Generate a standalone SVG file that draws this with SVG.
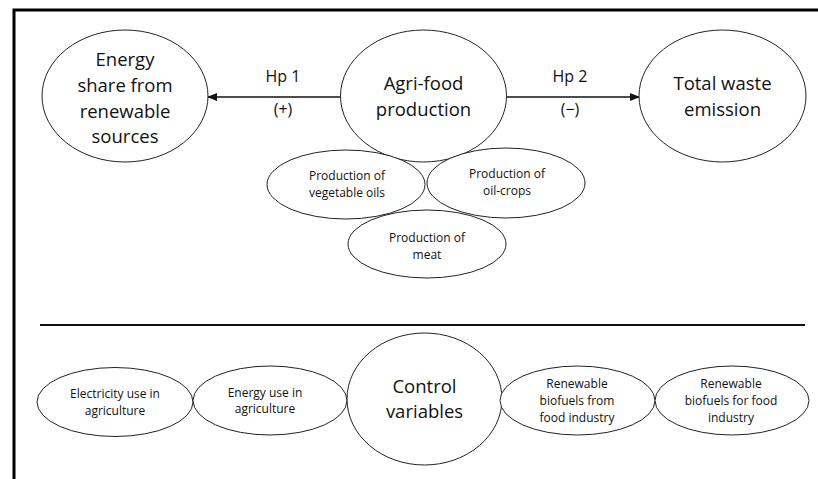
<svg xmlns="http://www.w3.org/2000/svg" width="818" height="479" viewBox="0 0 818 479">
<style>
.n ellipse{fill:#fff;stroke:#222;stroke-width:1}
text{font-family:"Open Sans",Lato,"DejaVu Sans",sans-serif;fill:#111;text-anchor:middle}
.b{font-size:18.5px}
.s{font-size:12px}
.l{font-size:16px}
</style>
<defs>
<marker id="ah" markerWidth="10" markerHeight="8" refX="9" refY="4" orient="auto" markerUnits="userSpaceOnUse">
<path d="M0,0 L10,4 L0,8 z" fill="#111"/>
</marker>
</defs>
<rect x="14" y="10" width="820" height="490" fill="#fff" stroke="#000" stroke-width="3"/>
<line x1="40" y1="325" x2="805" y2="325" stroke="#111" stroke-width="2"/>
<g id="connectors">
<line x1="340" y1="97" x2="208" y2="97" stroke="#111" stroke-width="1.5" marker-end="url(#ah)"/>
<line x1="507" y1="97" x2="639" y2="97" stroke="#111" stroke-width="1.5" marker-end="url(#ah)"/>
<text class="l" x="283" y="82">Hp 1</text>
<text class="l" x="283" y="115">(+)</text>
<text class="l" x="570" y="82">Hp 2</text>
<text class="l" x="570" y="115">(−)</text>
</g>
<g id="energy-share" class="n">
<ellipse cx="125" cy="96" rx="83" ry="66"/>
<text class="b" x="125" y="66">Energy</text>
<text class="b" x="125" y="92">share from</text>
<text class="b" x="125" y="118">renewable</text>
<text class="b" x="125" y="143">sources</text>
</g>
<g id="agri-food" class="n">
<ellipse cx="423.5" cy="96" rx="83" ry="66"/>
<text class="b" x="423.5" y="90">Agri-food</text>
<text class="b" x="423.5" y="116">production</text>
</g>
<g id="total-waste" class="n">
<ellipse cx="722.5" cy="96" rx="83.5" ry="66"/>
<text class="b" x="722.5" y="90">Total waste</text>
<text class="b" x="722.5" y="116">emission</text>
</g>
<g id="veg-oils" class="n">
<ellipse cx="346" cy="184.5" rx="79" ry="34.5"/>
<text class="s" x="347" y="180">Production of</text>
<text class="s" x="347" y="197">vegetable oils</text>
</g>
<g id="oil-crops" class="n">
<ellipse cx="506" cy="183" rx="79" ry="35"/>
<text class="s" x="507" y="178">Production of</text>
<text class="s" x="507" y="195">oil-crops</text>
</g>
<g id="meat" class="n">
<ellipse cx="427" cy="244" rx="79" ry="34"/>
<text class="s" x="427" y="242">Production of</text>
<text class="s" x="427" y="259">meat</text>
</g>
<g id="electricity" class="n">
<ellipse cx="115" cy="402" rx="78" ry="34.5"/>
<text class="s" x="115" y="398">Electricity use in</text>
<text class="s" x="115" y="415">agriculture</text>
</g>
<g id="energy-use" class="n">
<ellipse cx="270" cy="400.5" rx="77" ry="34.5"/>
<text class="s" x="265" y="397">Energy use in</text>
<text class="s" x="265" y="413">agriculture</text>
</g>
<g id="control" class="n">
<ellipse cx="424.5" cy="399" rx="77.5" ry="66"/>
<text class="b" x="424.5" y="393">Control</text>
<text class="b" x="424.5" y="418">variables</text>
</g>
<g id="biofuels-from" class="n">
<ellipse cx="577.5" cy="400.5" rx="77.5" ry="34.5"/>
<text class="s" x="577" y="388">Renewable</text>
<text class="s" x="577" y="405">biofuels from</text>
<text class="s" x="577" y="422">food industry</text>
</g>
<g id="biofuels-for" class="n">
<ellipse cx="732" cy="400.5" rx="77" ry="34.5"/>
<text class="s" x="731" y="388">Renewable</text>
<text class="s" x="731" y="405">biofuels for food</text>
<text class="s" x="731" y="422">industry</text>
</g>
</svg>
